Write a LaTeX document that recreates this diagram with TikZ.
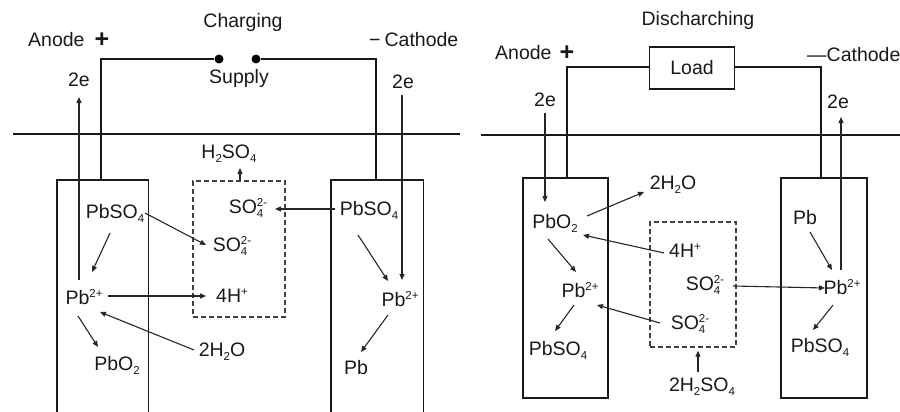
\documentclass[tikz,border=0pt]{standalone}
\usepackage{fontspec}
\setmainfont{Liberation Sans}
\usetikzlibrary{arrows.meta,calc}
\newcommand\chsub[1]{\raisebox{-4pt}{\fontsize{11.5}{11.5}\selectfont #1}}
\newcommand\chsup[1]{\raisebox{7pt}{\fontsize{11.5}{11.5}\selectfont #1}}
\newcommand\chss[2]{\rlap{\chsub{#1}}\chsup{#2}}
\newcommand\bigplus{\raisebox{-1pt}{\fontsize{25}{25}\selectfont\textbf{+}}}
\begin{document}
\begin{tikzpicture}[x=1pt,y=-1pt,
  lbl/.style={inner sep=0pt, font=\fontsize{19.5}{22}\selectfont, text=black!90},
  arr/.style={line width=1.1pt, draw=black!85, -{Triangle[length=6pt,width=5pt]}},
  wire/.style={line width=1.7pt, draw=black!90},
  cellside/.style={line width=1.7pt, draw=black!90},
  cellbox/.style={draw=none, inner sep=0pt},
  ionbox/.style={draw=black!75, line width=1.3pt, dash pattern=on 5pt off 3pt, inner sep=0pt},
  dotnode/.style={circle, fill=black, inner sep=0pt, minimum size=9pt}]
\useasboundingbox (0,0) rectangle (900,412);

% ================= LEFT: Charging =================
\node[lbl] (charging) at (243,22) {Charging};
\node[lbl, anchor=west] (anodeL) at (28,40) {Anode\hspace{10pt}\bigplus};
\node[lbl, anchor=west] (cathodeL) at (369,40) {−\hspace{4pt}Cathode};
\node[lbl] (supply) at (239,78) {Supply};
\node[dotnode] (dotL) at (219,59) {};
\node[dotnode] (dotR) at (256,59) {};
\node[lbl] (e2L) at (79,80) {2e};
\node[lbl] (e2R) at (403,82) {2e};

\draw[line width=1.7pt, black!90] (13,134) -- (460,134);

\node[cellbox, minimum width=91, minimum height=232, anchor=north west] (boxL) at (57,180) {};
\node[cellbox, minimum width=92, minimum height=232, anchor=north west] (boxR) at (331,180) {};
\draw[cellside] (boxL.south west) -- (boxL.north west) -- (boxL.north east) -- (boxL.south east);
\draw[cellside] (boxR.south west) -- (boxR.north west) -- (boxR.north east) -- (boxR.south east);
\node[ionbox, minimum width=92, minimum height=136] (dashL) at (239,249) {};

\draw[wire] ($(boxL.north)+(-1.5,0)$) |- (dotL);
\draw[wire] (dotR) -| ($(boxR.north)+(-1,0)$);

\node[lbl] (h2so4) at (229,154) {H\chsub{2}SO\chsub{4}};
\node[lbl] (so4a) at (248,208) {SO\chss{4}{2-}};
\node[lbl] (pbso4R) at (369,210) {PbSO\chsub{4}};
\node[lbl] (pbso4L) at (115,213) {PbSO\chsub{4}};
\node[lbl] (so4b) at (232,246) {SO\chss{4}{2-}};
\node[lbl] (pb2L) at (84,297) {Pb\chsup{2+}};
\node[lbl] (h4) at (232,296) {4H\chsup{+}};
\node[lbl] (h2o) at (222,352) {2H\chsub{2}O};
\node[lbl] (pbo2) at (117,365) {PbO\chsub{2}};
\node[lbl] (pb2R) at (400,299) {Pb\chsup{2+}};
\node[lbl] (pbR) at (356,368) {Pb};

\draw[arr] ($(pbso4R)+(-34,-1)$) -- ($(so4a)+(27,1)$);
\draw[arr] ($(pbso4L)+(30,0)$) -- ($(so4b)+(-26,-1)$);
\draw[arr] ($(pb2L)+(24,-1)$) -- ($(h4)+(-26,0)$);
\draw[arr] ($(pbso4L)+(-5,20)$) -- ($(pb2L)+(8,-25)$);
\draw[arr] ($(pb2L)+(-6,19)$) -- ($(pbo2)+(-19,-18)$);
\draw[arr] ($(h2o)+(-28,-2)$) -- ($(pb2L)+(16,15)$);
\draw[arr] ($(pbso4R)+(-11,25)$) -- ($(pb2R)+(-12,-18)$);
\draw[arr] ($(pb2R)+(-12,16)$) -- ($(pbR)+(5,-16)$);
\draw[arr] ($(dashL.north)+(1,0)$) -- ($(h2so4)+(11,14)$);
\draw[arr] ($(e2L |- pb2L)+(0,-17)$) -- ($(e2L)+(0,17)$);
\draw[arr] ($(e2R)+(-1,13)$) -- ($(e2R |- pb2R)+(-1,-19)$);

% ================= RIGHT: Discharching =================
\node[lbl] (disch) at (698,20) {Discharching};
\node[lbl, anchor=west] (anodeR) at (495,53) {Anode\hspace{8pt}\bigplus};
\node[lbl, anchor=west] (cathodeR) at (807,55) {—Cathode};
\node[lbl, draw=black!90, line width=1.7pt, minimum width=85, minimum height=42] (load) at (692,68) {Load};
\node[lbl] (e2La) at (545,100) {2e};
\node[lbl] (e2Rb) at (838,102) {2e};

\draw[line width=1.7pt, black!90] (481,135) -- (900,135);

\node[cellbox, draw=black!90, line width=1.7pt, minimum width=85, minimum height=220, anchor=north west] (boxRa) at (522,177) {};
\node[cellbox, draw=black!90, line width=1.7pt, minimum width=86, minimum height=220, anchor=north west] (boxRb) at (780,177) {};
\node[ionbox, minimum width=86, minimum height=125] (dashR) at (693,284.5) {};

\draw[wire] ($(boxRa.north)+(1.5,0)$) |- ($(load.west)+(0,-1)$);
\draw[wire] ($(load.east)+(0,-1)$) -| ($(boxRb.north)+(-3,0)$);

\node[lbl] (h2oR) at (673,185) {2H\chsub{2}O};
\node[lbl] (pbo2R) at (555,223) {PbO\chsub{2}};
\node[lbl] (h4R) at (685,251) {4H\chsup{+}};
\node[lbl] (so4c) at (705,285) {SO\chss{4}{2-}};
\node[lbl] (pb2Ra) at (580,290) {Pb\chsup{2+}};
\node[lbl] (pb2Rb) at (842,287) {Pb\chsup{2+}};
\node[lbl] (pbRb) at (805,218) {Pb};
\node[lbl] (pbso4Ra) at (558,350) {PbSO\chsub{4}};
\node[lbl] (pbso4Rb) at (820,347) {PbSO\chsub{4}};
\node[lbl] (so4d) at (690,324) {SO\chss{4}{2-}};
\node[lbl] (h2so4R) at (702,387) {2H\chsub{2}SO\chsub{4}};

\draw[arr] ($(pbo2R)+(32,-7)$) -- ($(h2oR)+(-29,7)$);
\draw[arr] ($(h4R)+(-21,2)$) -- ($(pbo2R)+(28,12)$);
\draw[arr] ($(so4c)+(28,1)$) -- ($(pb2Rb)+(-17,1)$);
\draw[arr] ($(pbRb)+(5,14)$) -- ($(pb2Rb)+(-10,-17)$);
\draw[arr] ($(pb2Rb)+(-9,18)$) -- ($(pbso4Rb)+(-7,-17)$);
\draw[arr] ($(pbo2R)+(-7,16)$) -- ($(pb2Ra)+(-4,-18)$);
\draw[arr] ($(pb2Ra)+(-6,15)$) -- ($(pbso4Ra)+(-3,-19)$);
\draw[arr] ($(so4d)+(-30,-1)$) -- ($(pb2Ra)+(17,15)$);
\draw[arr] ($(h2so4R)+(-4,-15)$) -- ($(dashR.south)+(5,3)$);
\draw[arr] ($(e2La)+(0,13)$) -- ($(e2La |- pbo2R)+(0,-21)$);
\draw[arr] ($(e2Rb |- pb2Rb)+(3,-17)$) -- ($(e2Rb)+(3,15)$);
\end{tikzpicture}
\end{document}
